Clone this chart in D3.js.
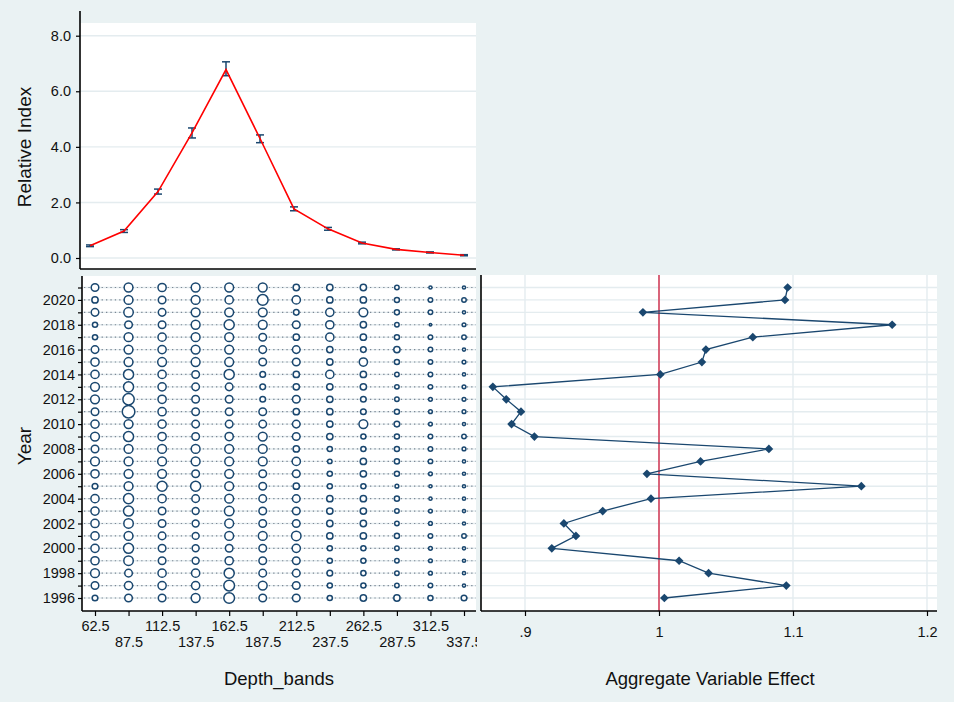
<!DOCTYPE html>
<html>
<head>
<meta charset="utf-8">
<script src="https://cdn.jsdelivr.net/npm/d3@7"></script>
<style>
  body { margin: 0; background: #eaf2f3; }
  svg { display: block; font-family: "Liberation Sans", Arial, sans-serif; }
</style>
</head>
<body>
<script>
// ---- data ----
const depths = [62.5, 87.5, 112.5, 137.5, 162.5, 187.5, 212.5, 237.5, 262.5, 287.5, 312.5, 337.5];
const relIndex = [0.44, 0.97, 2.39, 4.50, 6.78, 4.30, 1.77, 1.05, 0.54, 0.31, 0.20, 0.10];
const relLow   = [0.41, 0.92, 2.30, 4.32, 6.56, 4.15, 1.70, 1.00, 0.51, 0.29, 0.18, 0.08];
const relHigh  = [0.47, 1.02, 2.48, 4.68, 7.06, 4.43, 1.84, 1.10, 0.57, 0.33, 0.22, 0.12];
const relTicks = [0, 2, 4, 6, 8];

const years = [1996, 1997, 1998, 1999, 2000, 2001, 2002, 2003, 2004, 2005, 2006, 2007, 2008,
               2009, 2010, 2011, 2012, 2013, 2014, 2015, 2016, 2017, 2018, 2019, 2020, 2021];
const yearTicks = [1996, 1998, 2000, 2002, 2004, 2006, 2008, 2010, 2012, 2014, 2016, 2018, 2020];

// aggregate variable effect per year (same order as years)
const effect = [1.004, 1.095, 1.037, 1.015, 0.920, 0.938, 0.929, 0.958, 0.994, 1.151, 0.991, 1.031, 1.082,
                0.907, 0.890, 0.897, 0.886, 0.876, 1.001, 1.032, 1.035, 1.070, 1.174, 0.988, 1.094, 1.096];
const effectTicks = [0.9, 1.0, 1.1, 1.2];

// influence of each depth band within each year (rows follow years, columns follow depths)
const influence = [
  [3.2, 5.8, 5.8, 7.8, 11.6, 5.8, 5.8, 2.6, 4.0, 4.0, 2.6, 3.2],  // 1996
  [5.8, 6.8, 6.8, 6.8, 11.6, 7.8, 5.8, 2.6, 2.6, 2.0, 2.0, 1.0],  // 1997
  [7.8, 5.8, 6.8, 6.8, 10.2, 5.8, 5.8, 3.2, 2.6, 2.0, 1.4, 1.0],  // 1998
  [6.8, 9.0, 5.8, 4.8, 6.8, 5.8, 5.8, 2.6, 2.6, 2.0, 1.4, 1.0],   // 1999
  [6.8, 10.2, 5.8, 4.8, 5.8, 5.8, 6.8, 2.6, 2.6, 2.0, 1.4, 1.0],  // 2000
  [6.8, 7.8, 5.8, 4.8, 7.8, 7.8, 9.0, 4.0, 4.0, 2.6, 2.0, 2.0],   // 2001
  [6.8, 9.0, 5.8, 4.8, 7.8, 5.8, 5.8, 4.0, 4.0, 2.0, 1.4, 1.0],   // 2002
  [6.8, 10.2, 5.8, 4.8, 9.0, 5.8, 5.8, 4.0, 4.0, 2.0, 1.4, 1.0],  // 2003
  [6.8, 10.2, 6.8, 5.8, 7.8, 5.8, 5.8, 4.0, 4.0, 2.6, 1.0, 1.0],  // 2004
  [3.2, 7.8, 10.2, 10.2, 7.8, 5.8, 4.0, 2.6, 2.6, 1.4, 1.0, 1.0], // 2005
  [6.8, 7.8, 7.8, 5.8, 7.8, 5.8, 5.8, 2.6, 4.0, 2.6, 1.4, 1.0],   // 2006
  [7.8, 7.8, 7.8, 7.8, 7.8, 7.8, 6.8, 2.0, 4.0, 2.6, 2.0, 1.0],   // 2007
  [5.8, 7.8, 7.8, 7.8, 7.8, 7.8, 4.0, 2.6, 2.6, 2.6, 2.0, 1.4],   // 2008
  [7.8, 10.2, 6.8, 5.8, 6.8, 7.8, 5.8, 4.0, 2.6, 2.6, 2.0, 2.0],  // 2009
  [6.8, 7.8, 6.8, 5.8, 5.8, 5.8, 5.8, 4.0, 7.8, 3.2, 1.4, 1.0],   // 2010
  [5.8, 16.0, 6.8, 5.8, 5.8, 5.8, 4.0, 4.0, 3.2, 2.6, 1.4, 1.4],  // 2011
  [7.8, 13.0, 6.8, 5.8, 5.8, 3.2, 5.8, 4.0, 3.2, 2.0, 1.4, 1.4],  // 2012
  [7.8, 10.2, 6.8, 5.8, 5.8, 3.2, 4.0, 4.0, 4.0, 2.0, 2.0, 1.4],  // 2013
  [6.8, 10.2, 6.8, 5.8, 10.2, 3.2, 4.0, 6.8, 4.0, 2.0, 2.0, 1.0], // 2014
  [6.8, 7.8, 7.8, 7.8, 7.8, 5.8, 5.8, 4.0, 6.8, 2.6, 2.0, 1.4],   // 2015
  [5.8, 7.8, 6.8, 7.8, 7.8, 5.8, 5.8, 4.0, 3.2, 4.0, 2.0, 1.0],   // 2016
  [2.6, 7.8, 6.8, 7.8, 7.8, 5.8, 4.0, 6.8, 4.0, 2.6, 2.0, 2.0],   // 2017
  [2.6, 5.8, 5.8, 7.8, 10.2, 7.8, 5.8, 6.8, 4.0, 2.0, 0.6, 1.4],  // 2018
  [5.8, 9.0, 5.8, 7.8, 7.8, 7.8, 3.2, 6.8, 7.8, 2.6, 2.0, 1.0],   // 2019
  [4.0, 7.8, 5.8, 7.8, 6.8, 11.6, 6.8, 4.0, 4.0, 2.6, 2.0, 2.0],  // 2020
  [5.8, 7.8, 6.8, 7.8, 7.8, 7.8, 4.0, 4.0, 4.0, 2.0, 1.0, 1.0]    // 2021
];

// ---- styling ----
const NAVY = "#1a476f";
const GRID = "#e4ecef";
const BG = "#eaf2f3";

const svg = d3.select("body").append("svg")
  .attr("width", 954).attr("height", 702);

svg.append("rect").attr("width", 954).attr("height", 702).attr("fill", BG);

function axisLine(g, x1, y1, x2, y2) {
  g.append("line").attr("x1", x1).attr("y1", y1).attr("x2", x2).attr("y2", y2)
    .attr("stroke", "#000").attr("stroke-width", 1.6);
}
function styleAxis(g, size) {
  g.select(".domain").remove();
  g.selectAll(".tick line").attr("stroke", "#000").attr("stroke-width", 1.2);
  g.selectAll(".tick text").attr("fill", "#111").attr("font-size", size)
    .attr("font-family", "'Liberation Sans', Arial, sans-serif");
}

// ================= upper panel: relative index by depth =================
const pTop = { x0: 80, x1: 476, y0: 23, y1: 269 };
const xTop = d3.scaleLinear().domain([62.5, 337.5]).range([90, 464]);
const yTop = d3.scaleLinear().domain([0, 8]).range([258, 35.7]);

const gTop = svg.append("g");
gTop.append("rect").attr("x", pTop.x0).attr("y", pTop.y0)
  .attr("width", pTop.x1 - pTop.x0).attr("height", pTop.y1 - pTop.y0).attr("fill", "#fff");
gTop.selectAll("line.grid").data(relTicks).join("line").attr("class", "grid")
  .attr("x1", pTop.x0).attr("x2", pTop.x1)
  .attr("y1", d => yTop(d)).attr("y2", d => yTop(d))
  .attr("stroke", GRID).attr("stroke-width", 1.4);

// error bars
const capW = 4;
const eb = gTop.append("g").attr("stroke", NAVY).attr("stroke-width", 1.5).attr("fill", "none");
depths.forEach((d, i) => {
  const x = xTop(d);
  eb.append("line").attr("x1", x).attr("x2", x).attr("y1", yTop(relLow[i])).attr("y2", yTop(relHigh[i]));
  eb.append("line").attr("x1", x - capW).attr("x2", x + capW).attr("y1", yTop(relLow[i])).attr("y2", yTop(relLow[i]));
  eb.append("line").attr("x1", x - capW).attr("x2", x + capW).attr("y1", yTop(relHigh[i])).attr("y2", yTop(relHigh[i]));
});
gTop.append("path")
  .datum(depths.map((d, i) => [d, relIndex[i]]))
  .attr("fill", "none").attr("stroke", "#ff0000").attr("stroke-width", 1.6)
  .attr("d", d3.line().x(p => xTop(p[0])).y(p => yTop(p[1])));

const gTopAxis = svg.append("g").attr("transform", `translate(${pTop.x0},0)`)
  .call(d3.axisLeft(yTop).tickValues(relTicks).tickFormat(d3.format(".1f")).tickSize(4).tickPadding(5));
styleAxis(gTopAxis, 14.5);
axisLine(svg, pTop.x0, pTop.y0 - 12, pTop.x0, pTop.y1);
axisLine(svg, pTop.x0, pTop.y1, pTop.x1, pTop.y1);

svg.append("text").attr("transform", "translate(31,147) rotate(-90)")
  .attr("text-anchor", "middle").attr("font-size", 19).attr("fill", "#111")
  .text("Relative Index");

// ================= lower left: influence bubbles =================
const pBL = { x0: 82, x1: 476, y0: 276, y1: 611 };
const xBot = d3.scaleLinear().domain([62.5, 337.5]).range([95, 464]);
const yYear = d3.scaleLinear().domain([1996, 2021]).range([598, 287.5]);
const rScale = d3.scaleSqrt().domain([0, 16]).range([0, 6.3]);

const gBL = svg.append("g");
gBL.append("rect").attr("x", pBL.x0).attr("y", pBL.y0)
  .attr("width", pBL.x1 - pBL.x0).attr("height", pBL.y1 - pBL.y0).attr("fill", "#fff");
gBL.selectAll("line.grid").data(years).join("line").attr("class", "grid")
  .attr("x1", pBL.x0).attr("x2", pBL.x1)
  .attr("y1", d => yYear(d)).attr("y2", d => yYear(d))
  .attr("stroke", GRID).attr("stroke-width", 1.4);
gBL.selectAll("line.dots").data(years).join("line").attr("class", "dots")
  .attr("x1", pBL.x0 + 2).attr("x2", pBL.x1)
  .attr("y1", d => yYear(d)).attr("y2", d => yYear(d))
  .attr("stroke", "#7b8794").attr("stroke-width", 1.2).attr("stroke-dasharray", "1.3,3.1");

const cells = [];
years.forEach((y, r) => depths.forEach((d, c) => cells.push({ y, d, w: influence[r][c] })));
gBL.selectAll("circle").data(cells).join("circle")
  .attr("cx", p => xBot(p.d)).attr("cy", p => yYear(p.y))
  .attr("r", p => rScale(p.w))
  .attr("fill", "#fff").attr("stroke", NAVY).attr("stroke-width", 1.5);

const gYear = svg.append("g").attr("transform", `translate(${pBL.x0},0)`)
  .call(d3.axisLeft(yYear).tickValues(years)
    .tickFormat(d => yearTicks.includes(d) ? String(d) : "").tickSize(4).tickPadding(3));
styleAxis(gYear, 14.5);

svg.append("defs").append("clipPath").attr("id", "clipDepth")
  .append("rect").attr("x", 0).attr("y", 600).attr("width", 477).attr("height", 60);
const gDepth = svg.append("g").attr("clip-path", "url(#clipDepth)")
  .append("g").attr("transform", `translate(0,${pBL.y1})`)
  .call(d3.axisBottom(xBot).tickValues(depths).tickFormat(d3.format(".1f")).tickSize(5));
styleAxis(gDepth, 14.5);
gDepth.selectAll(".tick text")
  .attr("y", (d, i) => i % 2 === 0 ? 15 : 31).attr("dy", "0.36em");

axisLine(svg, pBL.x0, pBL.y0, pBL.x0, pBL.y1);
axisLine(svg, pBL.x0, pBL.y1, pBL.x1, pBL.y1);

svg.append("text").attr("transform", "translate(31,446) rotate(-90)")
  .attr("text-anchor", "middle").attr("font-size", 19).attr("fill", "#111")
  .text("Year");
svg.append("text").attr("x", 279).attr("y", 685)
  .attr("text-anchor", "middle").attr("font-size", 18.5).attr("fill", "#111")
  .text("Depth_bands");

// ================= lower right: aggregate variable effect =================
const pBR = { x0: 481, x1: 937, y0: 275, y1: 611 };
const xEff = d3.scaleLinear().domain([0.9, 1.2]).range([525, 927]);

const gBR = svg.append("g");
gBR.append("rect").attr("x", pBR.x0).attr("y", pBR.y0)
  .attr("width", pBR.x1 - pBR.x0).attr("height", pBR.y1 - pBR.y0).attr("fill", "#fff");
gBR.selectAll("line.hgrid").data(years).join("line").attr("class", "hgrid")
  .attr("x1", pBR.x0).attr("x2", pBR.x1)
  .attr("y1", d => yYear(d)).attr("y2", d => yYear(d))
  .attr("stroke", GRID).attr("stroke-width", 1.4);
gBR.selectAll("line.vgrid").data(effectTicks.filter(v => v !== 1)).join("line").attr("class", "vgrid")
  .attr("x1", d => xEff(d)).attr("x2", d => xEff(d))
  .attr("y1", pBR.y0).attr("y2", pBR.y1)
  .attr("stroke", GRID).attr("stroke-width", 1.4);

gBR.append("line").attr("x1", xEff(1)).attr("x2", xEff(1))
  .attr("y1", pBR.y0).attr("y2", pBR.y1)
  .attr("stroke", "#d5546c").attr("stroke-width", 1.8);

const effPts = years.map((y, i) => [effect[i], y]);
gBR.append("path").datum(effPts)
  .attr("fill", "none").attr("stroke", NAVY).attr("stroke-width", 1.3)
  .attr("d", d3.line().x(p => xEff(p[0])).y(p => yYear(p[1])));
gBR.selectAll("path.mk").data(effPts).join("path").attr("class", "mk")
  .attr("transform", p => `translate(${xEff(p[0])},${yYear(p[1])}) rotate(45)`)
  .attr("d", d3.symbol(d3.symbolSquare, 38))
  .attr("fill", NAVY);

const gEff = svg.append("g").attr("transform", `translate(0,${pBR.y1})`)
  .call(d3.axisBottom(xEff).tickValues(effectTicks)
    .tickFormat(d => d === 1 ? "1" : d3.format(".1f")(d).replace(/^0/, "")).tickSize(5));
styleAxis(gEff, 14.5);
gEff.selectAll(".tick text").attr("y", 21).attr("dy", "0.36em");

axisLine(svg, pBR.x0, pBR.y0, pBR.x0, pBR.y1);
axisLine(svg, pBR.x0, pBR.y1, pBR.x1, pBR.y1);

svg.append("text").attr("x", 710).attr("y", 685)
  .attr("text-anchor", "middle").attr("font-size", 18.5).attr("fill", "#111")
  .text("Aggregate Variable Effect");
</script>
</body>
</html>
